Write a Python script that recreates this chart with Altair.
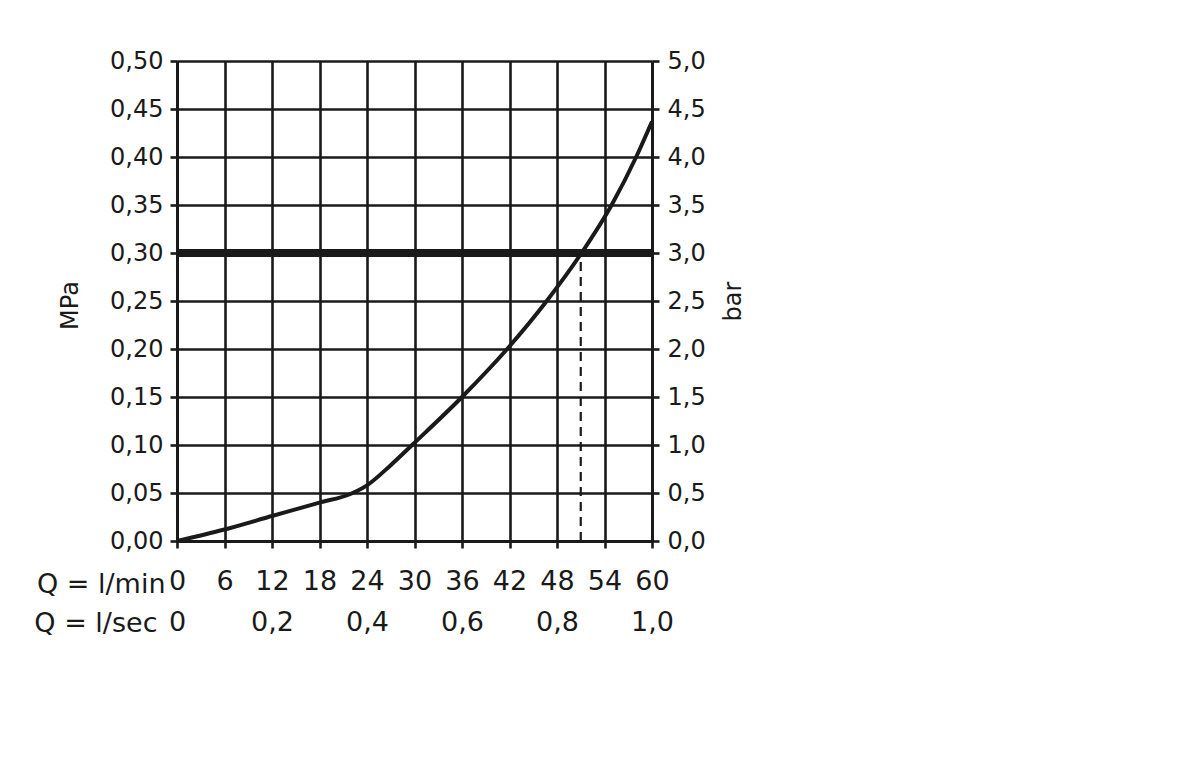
import altair as alt
import pandas as pd

# Flow (l/min) vs pressure (MPa)
flow_lpm = [0, 6, 12, 18, 21.9, 24, 27, 29.7, 36, 41.7, 46.7, 51.1, 54.9, 58, 60]
pressure_mpa = [0, 0.012, 0.026, 0.040, 0.049, 0.058, 0.079, 0.10, 0.15, 0.20, 0.25, 0.30, 0.35, 0.40, 0.437]

# Reference operating pressure and its flow
ref_pressure_mpa = [0.30]
ref_flow_lpm = [51.0]
ref_base_mpa = [0.0]

# Tick values
lpm_ticks = [0, 6, 12, 18, 24, 30, 36, 42, 48, 54, 60]
lps_ticks_as_lpm = [0, 12, 24, 36, 48, 60]
mpa_ticks = [0, 0.05, 0.10, 0.15, 0.20, 0.25, 0.30, 0.35, 0.40, 0.45, 0.50]

FONT = "DejaVu Sans"
INK = "#1a1a1a"

curve_df = pd.DataFrame({"lpm": flow_lpm, "mpa": pressure_mpa})
ref_df = pd.DataFrame({"mpa": ref_pressure_mpa})
drop_df = pd.DataFrame({"lpm": ref_flow_lpm, "mpa0": ref_base_mpa, "mpa1": ref_pressure_mpa})

x_scale = alt.Scale(domain=[0, 60], nice=False, zero=False)
y_scale = alt.Scale(domain=[0, 0.5], nice=False, zero=False)

curve = alt.Chart(curve_df).mark_line(
    color=INK, strokeWidth=4, interpolate="monotone"
).encode(
    x=alt.X("lpm:Q", scale=x_scale, axis=alt.Axis(
        orient="bottom", values=lpm_ticks, grid=True, gridColor=INK, gridWidth=2.6, gridOpacity=1,
        domainColor=INK, domainWidth=3, tickColor=INK, tickWidth=2.6, tickSize=7,
        labelFont=FONT, labelFontSize=27, labelColor=INK, labelPadding=20,
        labelOverlap=False, labelFlush=False, labelBound=False,
        title="Q = l/min", titleFont=FONT, titleFontSize=27, titleFontWeight="normal", titleColor=INK,
        titleAlign="right", titleBaseline="middle", titleX=-12, titleY=43, titleAngle=0,
    )),
    y=alt.Y("mpa:Q", scale=y_scale, axis=alt.Axis(
        orient="left", values=mpa_ticks, grid=True, gridColor=INK, gridWidth=2.6, gridOpacity=1,
        domainColor=INK, domainWidth=3, tickColor=INK, tickWidth=2.6, tickSize=7,
        labelFont=FONT, labelFontSize=24, labelColor=INK, labelPadding=7,
        labelOverlap=False, labelFlush=False, labelBound=False,
        labelExpr="replace(format(datum.value, '.2f'), '.', ',')",
        title="MPa", titleFont=FONT, titleFontSize=24, titleFontWeight="normal", titleColor=INK,
        titleAngle=270, titleAlign="center", titleBaseline="middle", titleX=-107, titleY=244,
    )),
)

ref_line = alt.Chart(ref_df).mark_rule(color=INK, strokeWidth=8).encode(
    y=alt.Y("mpa:Q", scale=y_scale, axis=alt.Axis(
        orient="right", values=mpa_ticks, grid=False,
        domainColor=INK, domainWidth=3, tickColor=INK, tickWidth=2.6, tickSize=7,
        labelFont=FONT, labelFontSize=24, labelColor=INK, labelPadding=8,
        labelOverlap=False, labelFlush=False, labelBound=False,
        labelExpr="replace(format(datum.value * 10, '.1f'), '.', ',')",
        title="bar", titleFont=FONT, titleFontSize=24, titleFontWeight="normal", titleColor=INK,
        titleAngle=270, titleAlign="center", titleBaseline="middle", titleX=81, titleY=240,
    )),
)

drop_line = alt.Chart(drop_df).mark_rule(color=INK, strokeWidth=2.2, strokeDash=[9, 6]).encode(
    x=alt.X("lpm:Q", scale=x_scale, axis=alt.Axis(
        orient="bottom", values=lps_ticks_as_lpm, grid=False, domain=False, ticks=False,
        labelFont=FONT, labelFontSize=27, labelColor=INK, labelPadding=68,
        labelOverlap=False, labelFlush=False, labelBound=False,
        labelExpr="datum.value == 0 ? '0' : replace(format(datum.value / 60, '.1f'), '.', ',')",
        title="Q = l/sec", titleFont=FONT, titleFontSize=27, titleFontWeight="normal", titleColor=INK,
        titleAlign="right", titleBaseline="middle", titleX=-20, titleY=82, titleAngle=0,
    )),
    y=alt.Y("mpa0:Q", scale=y_scale, axis=None),
    y2="mpa1:Q",
)

chart = alt.layer(curve, ref_line, drop_line).resolve_axis(
    x="independent", y="independent"
).properties(
    width=475, height=480,
    autosize=alt.AutoSizeParams(type="none"),
    padding={"left": 169, "top": 53, "right": 200, "bottom": 150},
    background="white",
).configure_view(strokeWidth=0)

chart.save("out.html", embed_options={"renderer": "svg", "actions": False})
